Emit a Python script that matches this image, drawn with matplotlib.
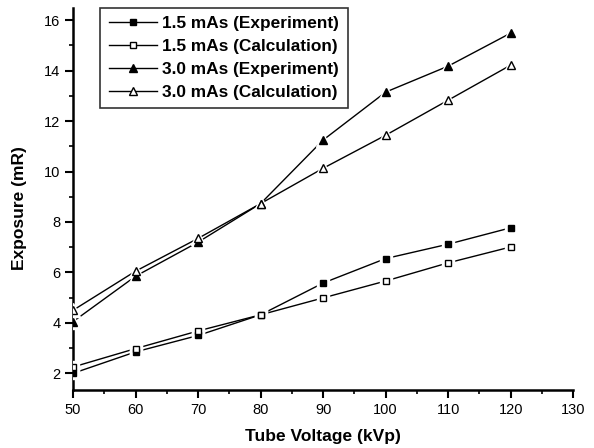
import matplotlib
matplotlib.use("Agg")
import matplotlib.pyplot as plt
from matplotlib.ticker import MultipleLocator
from matplotlib.lines import Line2D

plt.rcParams['font.family'] = ['Liberation Sans', 'DejaVu Sans']

kvp = [50, 60, 70, 80, 90, 100, 110, 120]
exp_15 = [2.0, 2.85, 3.5, 4.32, 5.58, 6.55, 7.12, 7.77]
calc_15 = [2.25, 2.98, 3.68, 4.32, 4.99, 5.66, 6.38, 7.01]
exp_30 = [4.05, 5.85, 7.2, 8.73, 11.25, 13.15, 14.18, 15.49]
calc_30 = [4.5, 6.05, 7.35, 8.73, 10.13, 11.44, 12.83, 14.22]

labels = ["1.5 mAs (Experiment)", "1.5 mAs (Calculation)",
          "3.0 mAs (Experiment)", "3.0 mAs (Calculation)"]
series = [exp_15, calc_15, exp_30, calc_30]
markers = ['s', 's', '^', '^']
sizes = [5.0, 5.0, 6.0, 6.0]
faces = ['black', 'white', 'black', 'white']

fig = plt.figure(figsize=(5.94, 4.48), dpi=100)
ax = fig.add_axes([0.123, 0.129, 0.842, 0.854])

handles = []
for ys, m, s, fc, lab in zip(series, markers, sizes, faces, labels):
    ax.plot(kvp, ys, color='black', lw=1.0, zorder=2)
    # white halo to create gap between line and marker
    ax.plot(kvp, ys, ls='none', marker=m, ms=s + 4, mfc='white', mec='white', zorder=3)
    ax.plot(kvp, ys, ls='none', marker=m, ms=s, mfc=fc, mec='black', mew=1.0, zorder=4)
    handles.append(Line2D([], [], color='black', lw=1.0, marker=m, ms=s,
                          mfc=fc, mec='black', label=lab))

ax.set_xlim(50, 130)
ax.set_ylim(1.33, 16.5)
ax.xaxis.set_major_locator(MultipleLocator(10))
ax.xaxis.set_minor_locator(MultipleLocator(5))
ax.yaxis.set_major_locator(MultipleLocator(2))
ax.yaxis.set_minor_locator(MultipleLocator(1))
ax.set_yticks([2, 4, 6, 8, 10, 12, 14, 16])

for sp in ['top', 'right']:
    ax.spines[sp].set_visible(False)
for sp in ['left', 'bottom']:
    ax.spines[sp].set_linewidth(1.8)

ax.tick_params(which='major', direction='out', length=6, width=1.5, labelsize=10.5, pad=3)
ax.tick_params(which='minor', direction='out', length=3, width=1.2)

ax.set_xlabel("Tube Voltage (kVp)", fontsize=12.5, fontweight='bold', labelpad=9)
ax.set_ylabel("Exposure (mR)", fontsize=12.5, fontweight='bold')
ax.yaxis.set_label_coords(-0.092, 0.476)

leg = ax.legend(handles=handles, loc='upper left', bbox_to_anchor=(0.054, 1.0),
                frameon=True, fancybox=False, edgecolor='black', handlelength=2.8,
                handletextpad=0.3, borderpad=0.5, labelspacing=0.45,
                borderaxespad=0.0,
                prop={'weight': 'bold', 'size': 12.4})
leg.get_frame().set_linewidth(1.2)

fig.savefig("out.png", dpi=100)
